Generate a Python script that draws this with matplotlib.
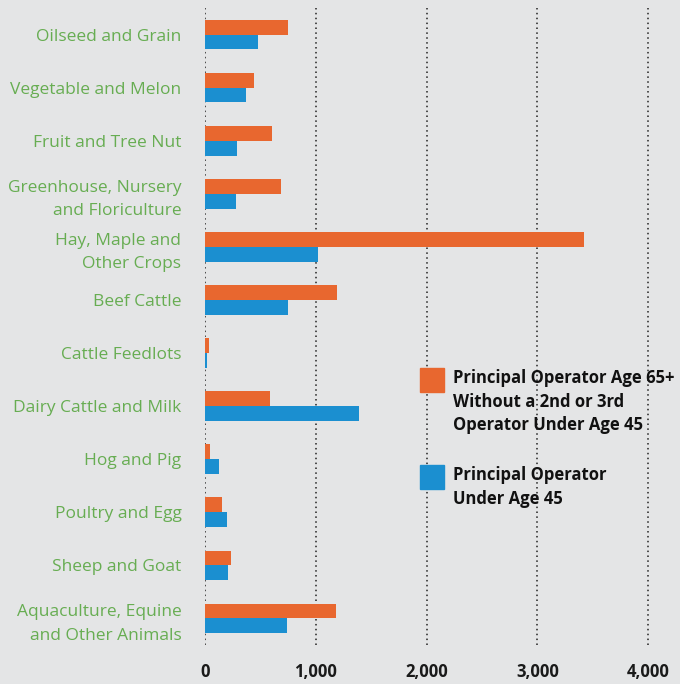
import matplotlib
matplotlib.use("Agg")
import matplotlib.pyplot as plt
import matplotlib.patches as patches
import numpy as np

categories = [
    "Oilseed and Grain",
    "Vegetable and Melon",
    "Fruit and Tree Nut",
    "Greenhouse, Nursery\nand Floriculture",
    "Hay, Maple and\nOther Crops",
    "Beef Cattle",
    "Cattle Feedlots",
    "Dairy Cattle and Milk",
    "Hog and Pig",
    "Poultry and Egg",
    "Sheep and Goat",
    "Aquaculture, Equine\nand Other Animals",
]
age65_no_successor = [749, 442, 605, 686, 3420, 1191, 36, 587, 45, 153, 235, 1182]
under45 = [478, 370, 289, 280, 1020, 749, 18, 1390, 126, 199, 208, 740]
series_labels = [
    "Principal Operator Age 65+\nWithout a 2nd or 3rd\nOperator Under Age 45",
    "Principal Operator\nUnder Age 45",
]
xticks = [0, 1000, 2000, 3000, 4000]

bg = "#e4e5e6"
orange = "#e8672f"
blue = "#1b8fd0"
green = "#67ad52"

fig = plt.figure(figsize=(6.8, 6.84), dpi=100, facecolor=bg)
ax = fig.add_axes([205 / 680, 1 - 645 / 684, 1 - 205 / 680, (645 - 8) / 684])
ax.set_facecolor(bg)

y = np.arange(len(categories))
h = 0.28
ax.barh(y - h / 2, age65_no_successor, height=h, color=orange, zorder=3)
ax.barh(y + h / 2, under45, height=h, color=blue, zorder=3)

ax.set_ylim(len(categories) - 0.5, -0.5)
ax.set_xlim(0, 4287)

for xv in xticks:
    ax.axvline(xv, color="#222222", linestyle=(0, (1, 2.2)), linewidth=1.1, zorder=1)

ax.set_yticks(y)
ax.set_yticklabels(categories, fontsize=12.5, color=green, family="Open Sans",
                   linespacing=1.6)
ax.tick_params(axis="y", length=0, pad=17)
for lab in ax.get_yticklabels():
    lab.set_horizontalalignment("right")
    lab.set_multialignment("right")

ax.set_xticks(xticks)
ax.set_xticklabels([f"{v:,}" for v in xticks], fontsize=12, fontweight="bold",
                   family="Open Sans", color="#1a1a1a")
ax.tick_params(axis="x", length=0, pad=13)

for s in ax.spines.values():
    s.set_visible(False)

# legend
for label, col, top in zip(series_labels, [orange, blue], [368, 465]):
    fig.patches.append(patches.Rectangle((420 / 680, 1 - (top + 24) / 684), 24 / 680, 24 / 684,
                                         transform=fig.transFigure, color=col))
    fig.text(453 / 680, 1 - (top + 1) / 684, label, ha="left", va="top", fontsize=12,
             fontweight="bold", family="Open Sans", color="#111111", linespacing=1.4)

fig.savefig("out.png", dpi=100, facecolor=bg)
